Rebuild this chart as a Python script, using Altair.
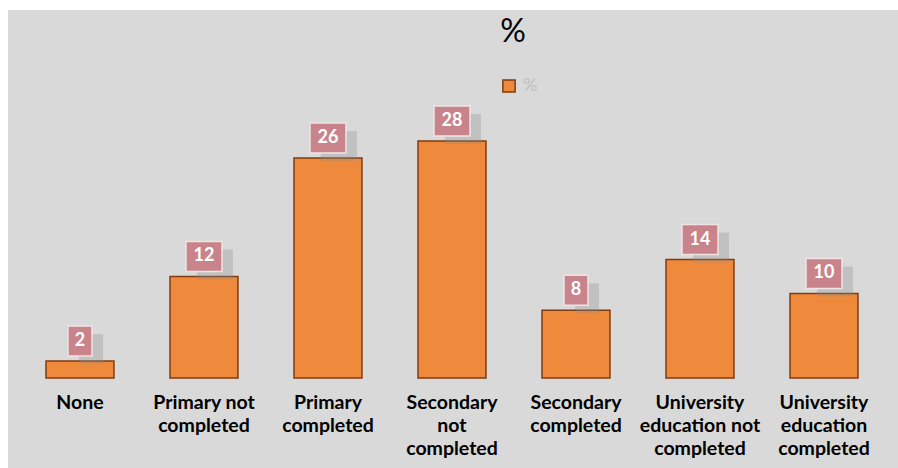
import altair as alt
import pandas as pd

categories = [
    "None",
    "Primary not\ncompleted",
    "Primary\ncompleted",
    "Secondary\nnot\ncompleted",
    "Secondary\ncompleted",
    "University\neducation not\ncompleted",
    "University\neducation\ncompleted",
]
values = [2, 12, 26, 28, 8, 14, 10]
series_name = "%"

df = pd.DataFrame({"cat": categories, "value": values, "series": [series_name] * len(values)})

FONT = "Lato"
box_two = "M-1,-0.833L1,-0.833L1,0.833L-1,0.833Z"
box_one = "M-0.667,-0.833L0.667,-0.833L0.667,0.833L-0.667,0.833Z"

x_enc = alt.X(
    "cat:N",
    sort=categories,
    scale=alt.Scale(paddingInner=0.452, paddingOuter=0.3146, align=0.487),
    axis=alt.Axis(
        title=None,
        orient="bottom",
        offset=-60,
        domain=False,
        ticks=False,
        labelPadding=0,
        labelAngle=0,
        labelBaseline="alphabetic",
        labelFont=FONT,
        labelFontSize=19.5,
        labelFontWeight="bold",
        labelColor="#000000",
        labelLimit=0,
        labelLineHeight=23,
        labelExpr="split(datum.label, '\\n')",
    ),
)
y_enc = alt.Y(
    "value:Q",
    scale=alt.Scale(domain=[-10.63, 43.48], nice=False, zero=False),
    axis=None,
)

base = alt.Chart(df).encode(x=x_enc, y=y_enc)

bars = base.mark_bar(stroke="#7f3c10", strokeWidth=1.5).encode(
    y2=alt.datum(0),
    color=alt.Color(
        "series:N",
        scale=alt.Scale(range=["#ef8a3d"]),
        legend=alt.Legend(
            title=None,
            orient="none",
            legendX=492,
            legendY=67,
            symbolType="square",
            symbolSize=150,
            symbolStrokeColor="#7f3c10",
            symbolStrokeWidth=1.5,
            labelColor="#c0c0c0",
            labelFont=FONT,
            labelFontSize=18,
            labelOffset=5,
        ),
    ),
)

shape_cond = alt.condition(alt.datum.value >= 10, alt.value(box_two), alt.value(box_one))

shadow = base.mark_point(
    filled=True, size=1296, color="#8c8c8c", opacity=0.3, xOffset=11, yOffset=-12
).encode(shape=shape_cond)

box = base.mark_point(
    filled=True, size=1296, fill="#c9848b", fillOpacity=1, stroke="#efe3e4", strokeWidth=1.5,
    opacity=1, yOffset=-20,
).encode(shape=shape_cond)

txt = base.mark_text(
    dy=-20, baseline="middle", align="center", font=FONT, fontSize=18, fontWeight="bold",
    color="#ffffff",
).encode(text="value:Q")

chart = (
    alt.layer(bars, shadow, box, txt)
    .properties(
        width=890,
        height=458,
        padding={"left": 8, "top": 10, "right": 0, "bottom": 0},
        autosize=alt.AutoSizeParams(type="none"),
        background="#ffffff",
        title=alt.TitleParams(
            text="%",
            font=FONT,
            fontSize=32,
            fontWeight="normal",
            color="#000000",
            anchor="middle",
            dx=60,
            offset=-39,
        ),
    )
    .configure_view(fill="#d9d9d9", stroke=None)
)

chart.save("out.html", embed_options={"renderer": "svg", "actions": False})
